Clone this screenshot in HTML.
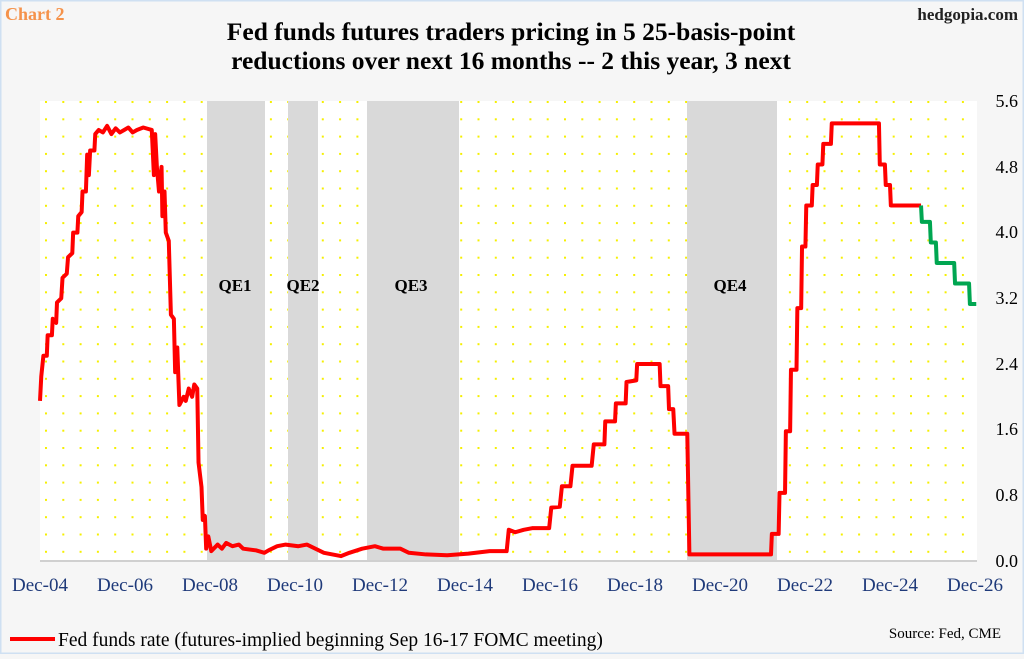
<!DOCTYPE html>
<html><head><meta charset="utf-8"><style>
html,body{margin:0;padding:0;}
body{width:1024px;height:654px;overflow:hidden;background:#f6f6f6;font-family:"Liberation Serif",serif;}
</style></head><body>
<svg width="1024" height="654" viewBox="0 0 1024 654" xmlns="http://www.w3.org/2000/svg">
<defs>
<pattern id="dots" x="45" y="101" width="17.3" height="17.3" patternUnits="userSpaceOnUse">
<rect x="0" y="0" width="2" height="2" fill="#f5ef00"/>
</pattern>
</defs>
<rect x="0.5" y="0.5" width="1023" height="653" fill="#f6f6f6" stroke="#cfe0f2" stroke-width="2"/>
<rect x="40" y="101" width="937" height="460" fill="#ffffff"/>
<rect x="45" y="101" width="932" height="458" fill="url(#dots)"/>
<rect x="207" y="101" width="58" height="460" fill="#d9d9d9"/>
<rect x="288" y="101" width="30" height="460" fill="#d9d9d9"/>
<rect x="367" y="101" width="92" height="460" fill="#d9d9d9"/>
<rect x="687" y="101" width="90" height="460" fill="#d9d9d9"/>
<line x1="40" y1="561" x2="977" y2="561" stroke="#d0d0d0" stroke-width="2"/>
<g font-weight="bold" font-size="17" text-anchor="middle" fill="#000">
<text x="235" y="291">QE1</text><text x="303" y="291">QE2</text><text x="411" y="291">QE3</text><text x="730" y="291">QE4</text>
</g>
<g transform="translate(40,561) scale(42.5,-82.1) translate(-2004.92,0)" fill="none" stroke-linejoin="round">
<polyline vector-effect="non-scaling-stroke" stroke="#ff0000" stroke-width="4" points="2004.92,1.95 2004.95,2.25 2005.0,2.5 2005.08,2.5 2005.1,2.75 2005.2,2.75 2005.22,2.95 2005.3,2.9 2005.32,3.15 2005.42,3.2 2005.45,3.45 2005.55,3.5 2005.58,3.7 2005.68,3.75 2005.7,4.0 2005.8,4.0 2005.82,4.2 2005.9,4.25 2005.92,4.5 2006.0,4.5 2006.03,4.95 2006.07,4.7 2006.1,5.0 2006.2,5.0 2006.22,5.2 2006.3,5.25 2006.4,5.22 2006.5,5.3 2006.6,5.2 2006.7,5.27 2006.8,5.22 2006.9,5.25 2007.0,5.28 2007.1,5.22 2007.2,5.25 2007.35,5.28 2007.55,5.25 2007.6,4.7 2007.63,5.2 2007.67,4.8 2007.72,4.5 2007.78,4.8 2007.8,4.2 2007.85,4.5 2007.88,4.0 2007.95,3.9 2008.0,3.0 2008.07,2.95 2008.1,2.3 2008.15,2.6 2008.2,1.9 2008.3,2.0 2008.35,1.95 2008.42,2.1 2008.5,2.0 2008.55,2.15 2008.62,2.1 2008.65,1.2 2008.72,0.9 2008.75,0.5 2008.8,0.55 2008.83,0.15 2008.88,0.3 2008.95,0.12 2009.1,0.2 2009.2,0.15 2009.3,0.22 2009.45,0.18 2009.6,0.2 2009.7,0.15 2010.0,0.13 2010.2,0.1 2010.3,0.13 2010.5,0.18 2010.7,0.2 2011.0,0.18 2011.2,0.2 2011.4,0.15 2011.6,0.1 2011.8,0.08 2012.0,0.06 2012.2,0.1 2012.5,0.15 2012.8,0.18 2013.0,0.15 2013.4,0.15 2013.6,0.1 2014.0,0.08 2014.5,0.07 2015.0,0.09 2015.5,0.12 2015.9,0.12 2015.95,0.38 2016.1,0.35 2016.3,0.38 2016.5,0.4 2016.9,0.4 2016.95,0.65 2017.15,0.66 2017.2,0.91 2017.4,0.91 2017.45,1.16 2017.9,1.16 2017.95,1.42 2018.2,1.42 2018.22,1.7 2018.45,1.7 2018.47,1.92 2018.7,1.92 2018.72,2.18 2018.95,2.2 2018.97,2.4 2019.5,2.4 2019.52,2.13 2019.7,2.13 2019.72,1.85 2019.82,1.85 2019.85,1.55 2020.15,1.55 2020.2,0.08 2022.12,0.08 2022.14,0.33 2022.3,0.33 2022.32,0.83 2022.45,0.83 2022.47,1.58 2022.57,1.58 2022.59,2.33 2022.72,2.33 2022.74,3.08 2022.83,3.08 2022.85,3.83 2022.93,3.83 2022.95,4.33 2023.08,4.33 2023.1,4.58 2023.2,4.58 2023.22,4.83 2023.33,4.83 2023.35,5.08 2023.53,5.08 2023.55,5.33 2024.66,5.33 2024.68,4.83 2024.8,4.83 2024.82,4.58 2024.92,4.58 2024.94,4.33 2025.65,4.33"/>
<polyline vector-effect="non-scaling-stroke" stroke="#00a651" stroke-width="4" points="2025.65,4.33 2025.67,4.13 2025.86,4.13 2025.88,3.88 2026.0,3.88 2026.02,3.63 2026.43,3.63 2026.45,3.38 2026.78,3.38 2026.8,3.13 2026.95,3.13"/>
</g>
<g font-size="18" text-anchor="end" fill="#000">
<text x="1018" y="107">5.6</text><text x="1018" y="173">4.8</text><text x="1018" y="238">4.0</text><text x="1018" y="304">3.2</text><text x="1018" y="370">2.4</text><text x="1018" y="435">1.6</text><text x="1018" y="501">0.8</text><text x="1018" y="567">0.0</text>
</g>
<g font-size="19" text-anchor="middle" fill="#1f3a7a">
<text x="40" y="591">Dec-04</text><text x="125" y="591">Dec-06</text><text x="210" y="591">Dec-08</text><text x="295" y="591">Dec-10</text><text x="380" y="591">Dec-12</text><text x="465" y="591">Dec-14</text><text x="550" y="591">Dec-16</text><text x="635" y="591">Dec-18</text><text x="720" y="591">Dec-20</text><text x="805" y="591">Dec-22</text><text x="890" y="591">Dec-24</text><text x="975" y="591">Dec-26</text>
</g>
<text x="5" y="20" font-size="18" font-weight="bold" fill="#f5924a">Chart 2</text>
<text x="1018" y="20" font-size="17" font-weight="bold" text-anchor="end" fill="#222">hedgopia.com</text>
<g font-size="25.5" font-weight="bold" text-anchor="middle" fill="#000">
<text x="511" y="40">Fed funds futures traders pricing in 5 25-basis-point</text>
<text x="511" y="69">reductions over next 16 months -- 2 this year, 3 next</text>
</g>
<line x1="10" y1="639" x2="55" y2="639" stroke="#ff0000" stroke-width="4"/>
<text x="58" y="646" font-size="19.5" fill="#000">Fed funds rate (futures-implied beginning Sep 16-17 FOMC meeting)</text>
<text x="1001" y="638" font-size="15" text-anchor="end" fill="#000">Source: Fed, CME</text>
</svg>
</body></html>
